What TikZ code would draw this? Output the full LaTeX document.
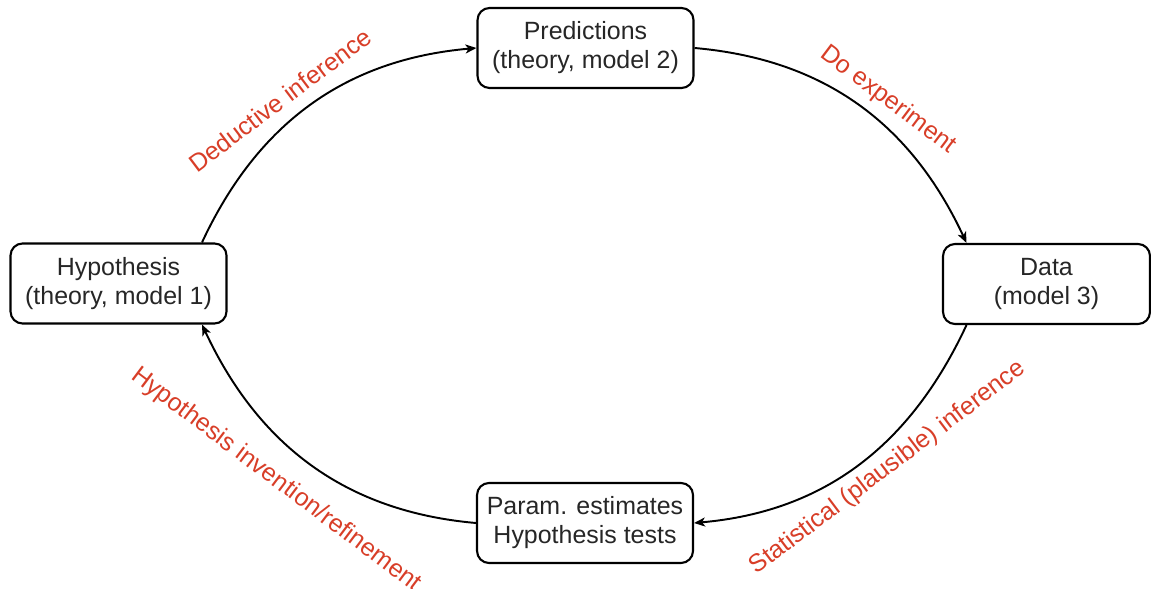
\documentclass[tikz,border=0pt]{standalone}
\usepackage{fontspec}
\setmainfont{Liberation Sans}
\usetikzlibrary{arrows.meta, calc}
\definecolor{labelred}{RGB}{216,62,40}

\begin{document}
\begin{tikzpicture}[
  x=0.02cm, y=0.02cm,
  stage/.style={draw, rounded corners=2.4mm, minimum width=4.32cm, minimum height=1.6cm,
                line width=1.2pt, align=center, text=black!85,
                font=\fontsize{14.2}{16.5}\selectfont},
  arr/.style={-{Stealth[length=2.2mm, width=1.8mm, inset=0.6mm]}, line width=1.1pt},
  lbl/.style={text=labelred, inner sep=1pt, font=\fontsize{14.2}{16.5}\selectfont},
]
\useasboundingbox (0,0) rectangle (1151,588);

% Nodes
\node[stage] (hyp) at (118.5, 304.5) {Hypothesis\\(theory, model 1)};
\node[stage] (pred) at (585.5, 540) {Predictions\\(theory, model 2)};
\node[stage, minimum width=4.14cm] (data) at (1046.5, 304) {Data\\(model 3)};
\node[stage] (param) at (585, 65) {Param. estimates\\Hypothesis tests};

% Arrows - the cycle
\draw[arr] ($(hyp.north)+(83.5,0)$) to[out=65, in=185] (pred.west);
\draw[arr] (pred.east) to[out=-5, in=115] ($(data.north)+(-80,0)$);
\draw[arr] ($(data.south)+(-80,0)$) to[out=-115, in=5] (param.east);
\draw[arr] (param.west) to[out=175, in=-65] ($(hyp.south)+(83.5,0)$);

% Labels
\node[lbl, rotate=37] (deduce) at (280, 488) {Deductive inference};
\node[lbl, rotate=-37] (experiment) at (888, 488) {Do experiment};
\node[lbl, rotate=37] (statinf) at (888, 120) {Statistical (plausible) inference};
\node[lbl, rotate=-37] (refine) at (276, 108) {Hypothesis invention/refinement};

\end{tikzpicture}
\end{document}
